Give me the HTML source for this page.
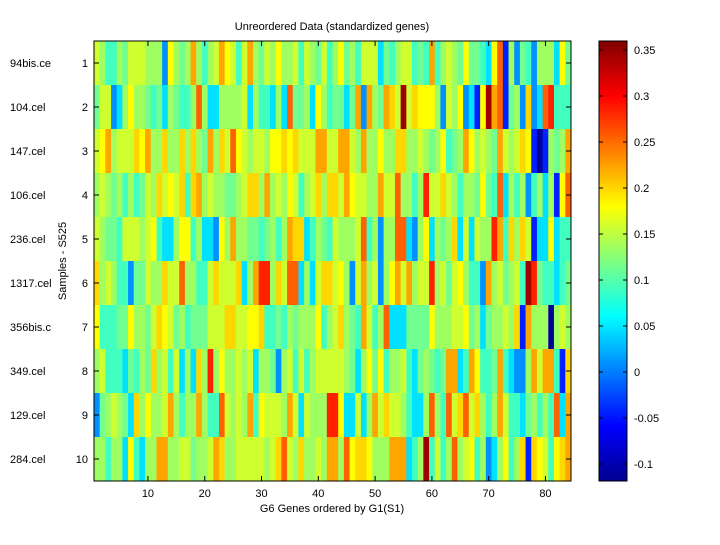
<!DOCTYPE html>
<html><head><meta charset="utf-8"><style>
html,body{margin:0;padding:0;background:#fff;}
svg text{font-family:"Liberation Sans",sans-serif;font-size:11px;fill:#000;}
</style></head><body>
<svg id="s" width="720" height="540" xmlns="http://www.w3.org/2000/svg">
<defs><linearGradient id="jet" x1="0" y1="1" x2="0" y2="0">
<stop offset="0" stop-color="#00008f"/><stop offset="0.125" stop-color="#0000ff"/>
<stop offset="0.375" stop-color="#00ffff"/><stop offset="0.625" stop-color="#ffff00"/>
<stop offset="0.875" stop-color="#ff0000"/><stop offset="1" stop-color="#800000"/>
</linearGradient></defs>
<rect width="720" height="540" fill="#fff"/>
<g id="cells"></g>
<rect x="94" y="41" width="477" height="440" fill="none" stroke="#000" stroke-width="1"/>
<g id="ticks" stroke="#000" stroke-width="1"></g>
<text x="332" y="30" text-anchor="middle">Unreordered Data (standardized genes)</text>
<text x="332" y="512" text-anchor="middle">G6 Genes ordered by G1(S1)</text>
<text transform="translate(66,261) rotate(-90)" text-anchor="middle">Samples - S525</text>
<rect x="599" y="41" width="28" height="440" fill="url(#jet)" stroke="#000"/>
<g id="cb" stroke="#000"></g>
</svg>
<script>
var P={D:"#00009a",B:"#0020ff",b:"#0090ff",c:"#00e0ff",t:"#40ffc0",g:"#70ff90",l:"#a0ff60",y:"#d0ff30",Y:"#ffff00",o:"#ffd700",O:"#ffa500",r:"#ff6000",R:"#ff2000",M:"#a00000"};
var rows=[
"ylttlgyyylllbYlglOltlyOYytyOlgylYllytylgyt"+"lYgltyyycgtlyytgtOtlylgYggtcYrBlbgtblllcYg",
"gyybclYllgtgclgttlrlccllllyclt"+"tclcrgglcYlt"+"ggcgObOlgOoyMyoYYYlbylYbcBYMOrBglbobcrRttt",
"yYOlyyyoYOllollolologOloyrYylyylYYoYoyyyOOy".replace("llollolologO","llollololgO")+"yOOylOllYlloollylglYtglOYlylgOylyoYBDBlglO",
"lylgltltgyloyYyotoOlyllgglyoolOlylYytlyolo"+"oyOYyyllOyyrlltlRyyoyltllgYgtrcltlbtlclBYr",
"ylggtyyylyYtcclYYtlccbYlOllggtgltlOooctlgt"+"ylllyrtlbllrrcblYclglocycyllROtoloyBccYctt",
"olylttbggylloyyrllttyoyyyoclORRloyrrclcyoo"+"yYlbyOlyblYOyOlyyRlygyYlttbOlyglytMRgttctg",
"YtttggYllgyoYygltgggyyyooyyYYottgtlglllYtl"+"yolgtOytlrcccggggYlllyyYglcgllyloBOlllDly",
"lytttcgtlgolytyclcolRlYllylycllgblytytlyyy"+"yylgclYgYtllytcglgtgOOctOYttgOtcbblOyOOtBo",
"bglylgcolYllyOltllOlttrylylOtYyyylOycylllR"+"RYccyclOyoyyltcclrltryoryoltlOyttcgltltrcO",
"lltllcYtcllOOllyyglly Ooll yyyyyly oryloll ylO".replace(/ /g,"")+"OlrYooYlllOOOctlMtytlrlyYtlbclYtloBoYytYoO"
];
var ns="http://www.w3.org/2000/svg",g=document.getElementById("cells"),cw=477/84;
rows.forEach(function(r,i){
  r=r.replace(/ /g,"");
  for(var j=0;j<84;j++){
    var ch=r[j]||"l";var e=document.createElementNS(ns,"rect");
    var x0=94+j*cw;e.setAttribute("x",x0.toFixed(2));e.setAttribute("y",41+i*44);
    e.setAttribute("width",(cw+0.4).toFixed(2));e.setAttribute("height",44);
    e.setAttribute("fill",P[ch]||"#a0ff60");g.appendChild(e);
  }
});
var s=document.getElementById("s"),t=document.getElementById("ticks");
function L(p,x1,y1,x2,y2){var e=document.createElementNS(ns,"line");e.setAttribute("x1",x1);e.setAttribute("y1",y1);e.setAttribute("x2",x2);e.setAttribute("y2",y2);p.appendChild(e);}
function T(x,y,str,a){var e=document.createElementNS(ns,"text");e.setAttribute("x",x);e.setAttribute("y",y);e.setAttribute("text-anchor",a);e.textContent=str;s.appendChild(e);}
for(var k=10;k<=80;k+=10){var x=94+(k-0.5)*cw;L(t,x,481,x,476);L(t,x,41,x,46);T(x,497,""+k,"middle");}
var names=["94bis.ce","104.cel","147.cel","106.cel","236.cel","1317.cel","356bis.c","349.cel","129.cel","284.cel"];
for(var i=0;i<10;i++){var y=63+i*44;L(t,94,y,99,y);L(t,571,y,566,y);T(88,y+4,""+(i+1),"end");T(10,y+4,names[i],"start");}
var cb=document.getElementById("cb");
var vals=["0.35","0.3","0.25","0.2","0.15","0.1","0.05","0","-0.05","-0.1"];
for(var i=0;i<10;i++){var y=50+i*46;L(cb,599,y,603,y);L(cb,627,y,623,y);T(634,y+4,vals[i],"start");}
</script>
</body></html>
